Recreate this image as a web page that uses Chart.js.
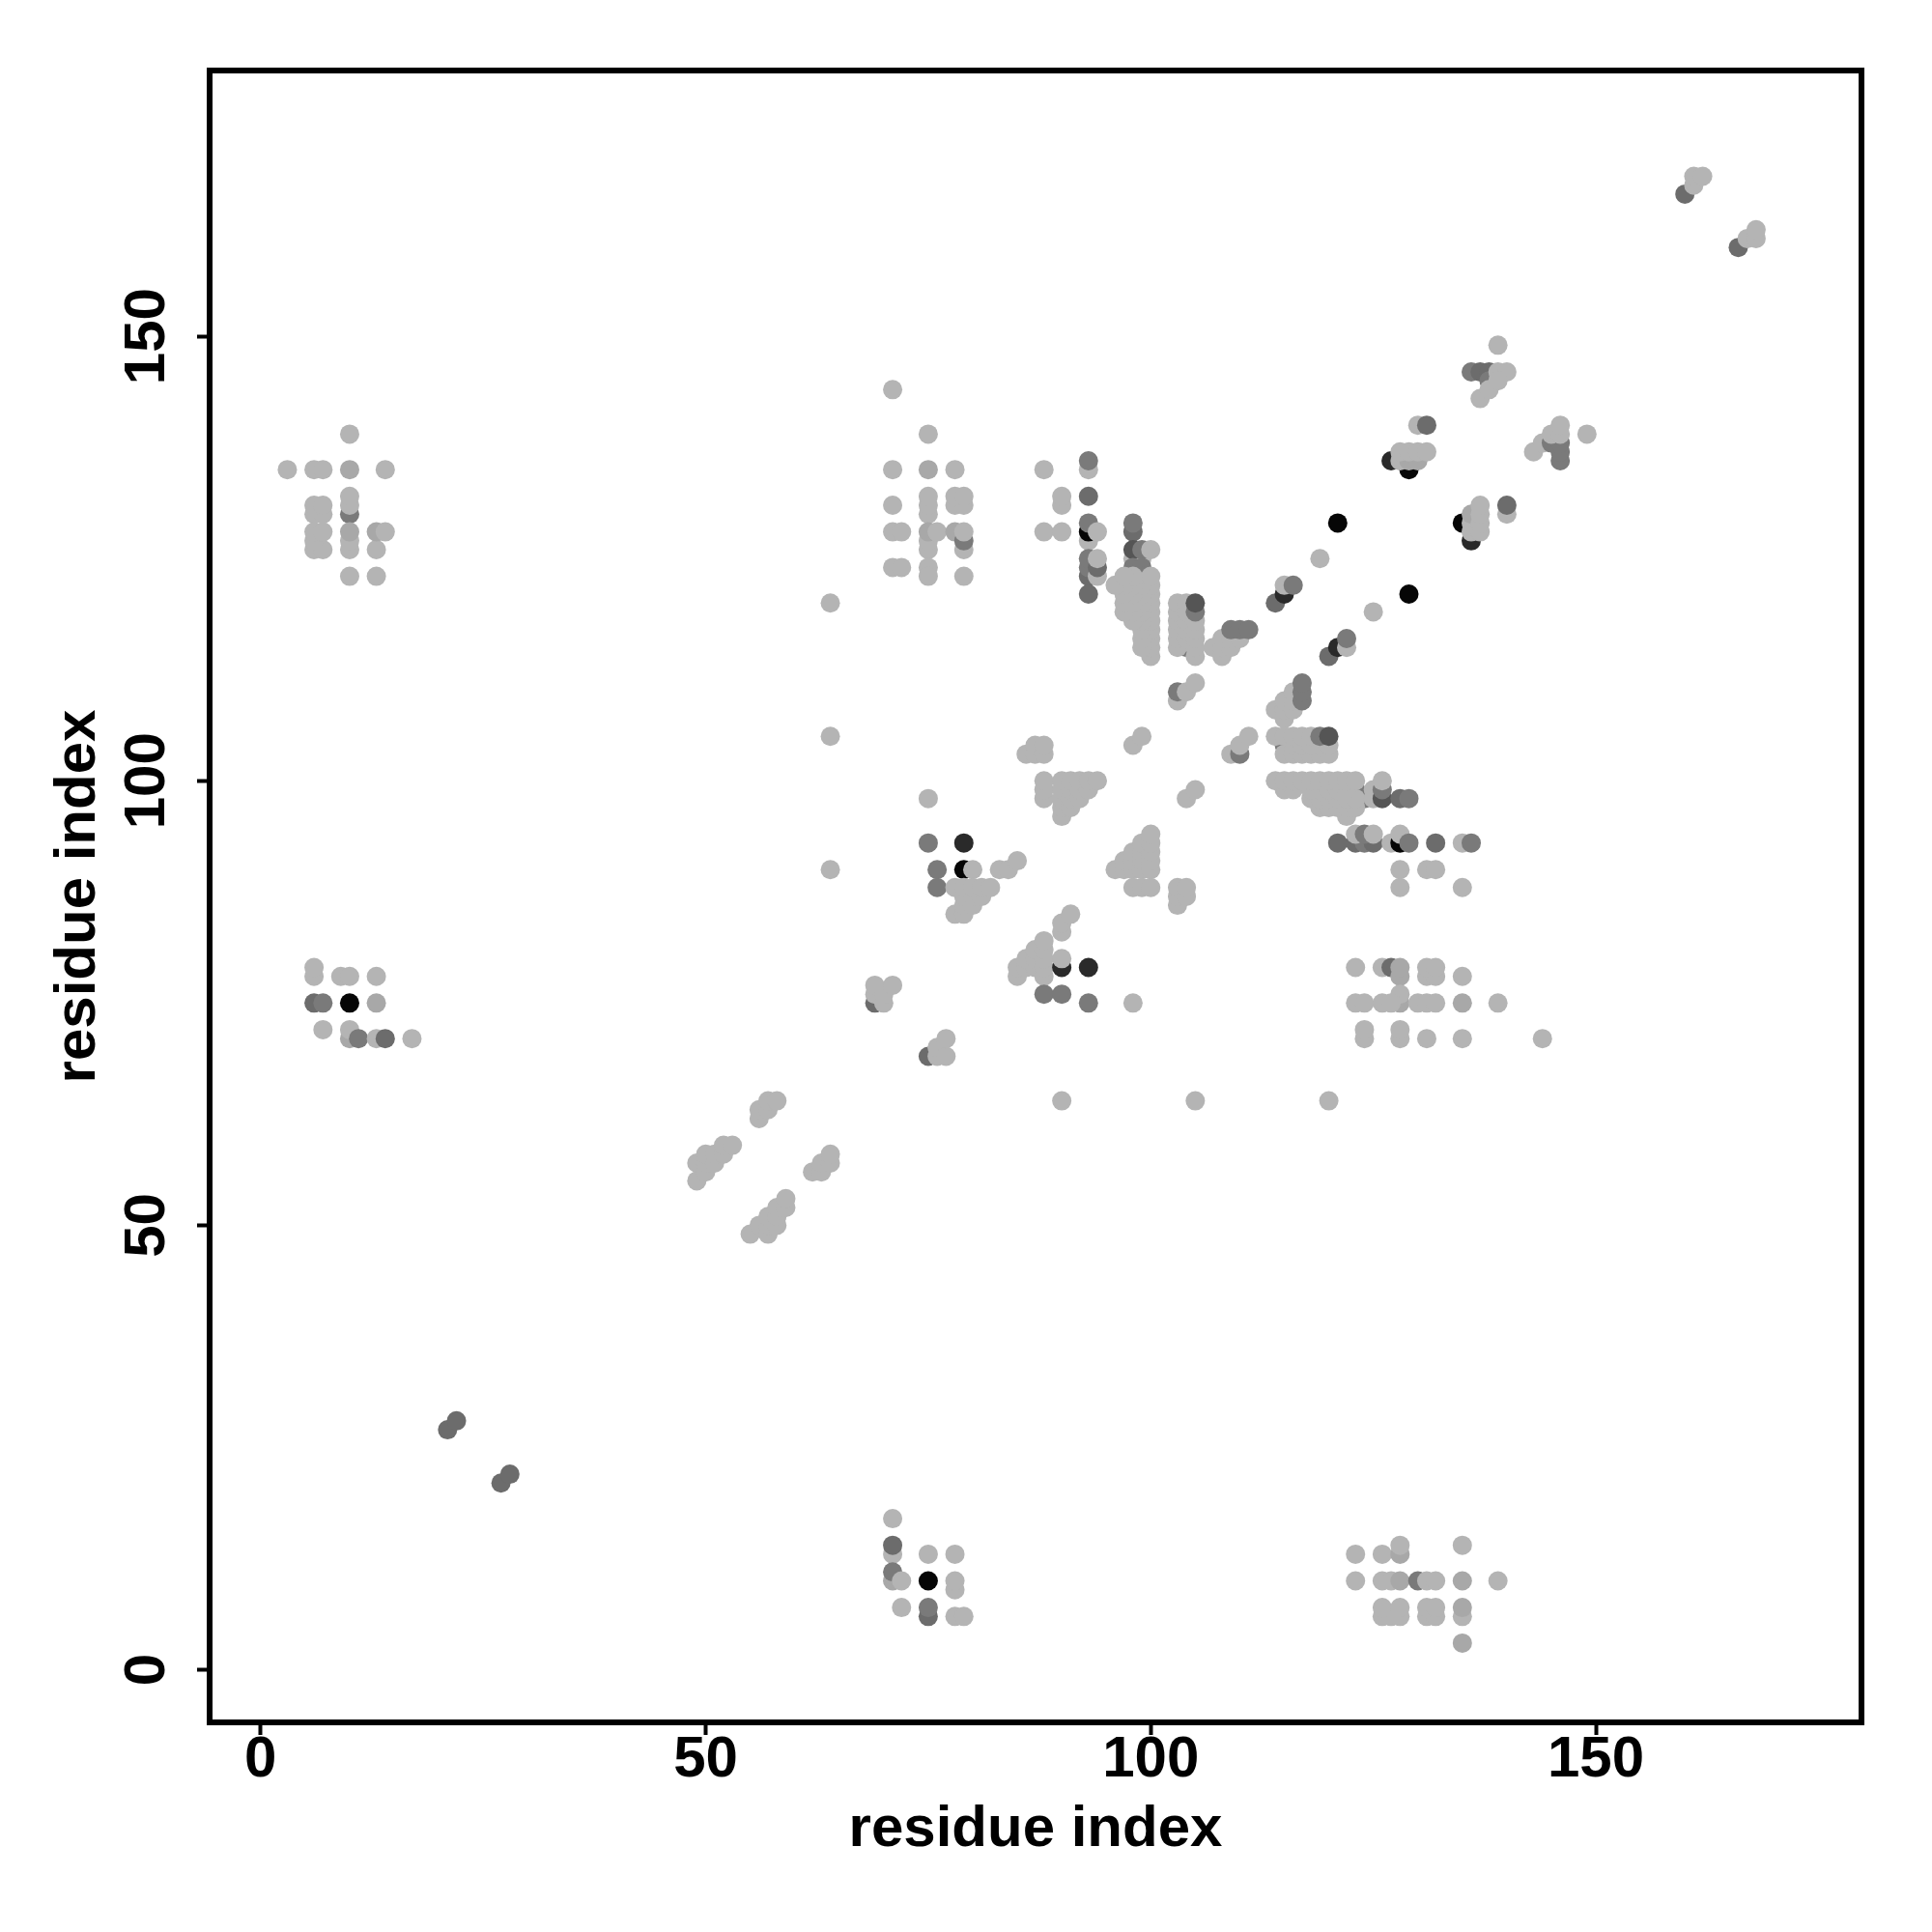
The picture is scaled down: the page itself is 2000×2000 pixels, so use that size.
<!DOCTYPE html>
<html>
<head>
<meta charset="utf-8">
<style>html,body{margin:0;padding:0;background:#fff}canvas{display:block}</style>
<script src="https://cdn.jsdelivr.net/npm/chart.js@4"></script>
</head>
<body>
<canvas id="c" width="2000" height="2000"></canvas>
<script>
// contacts: [residue x, residue y, score level] (level omitted = 1)
const lowDiagonal = [[21,27,4],[22,28,4],[27,21,4],[28,22,4]];
const topDiagonal = [[160,166,4],[161,167],[161,168],[162,168],[166,160,4],[167,161],[168,161],[168,162]];
const cornerTopLeft = [[10,139],[3,135],[6,135],[7,135],[10,135,2],[14,135],[6,130],[7,130],[10,130,3],[6,131],[7,131],[10,131],[10,132],
  [6,126],[7,126],[10,126],[13,126],[6,127],[10,127],[6,128],[7,128],[10,128,2],[13,128,2],[14,128],[10,123],[13,123]];
const cornerMidLeft = [[6,78],[6,79],[9,78],[10,78],[13,78],[6,75,4],[7,75,3],[10,75,7],[13,75,2],[7,72],[10,71,2],[10,72],[11,71,3],[13,71],[14,71,4],[17,71]];
const cornerBottomMid = [[71,17],[71,13],[71,14,4],[75,13],[78,13],[71,10,2],[71,11,3],[72,10],[75,10,7],[78,9],[78,10],[72,7],[75,6,4],[75,7,3],[78,6],[79,6]];
const cornerBottomRight = [[123,13],[126,13],[128,13,2],[128,14],[135,14],[123,10],[126,10],[127,10],[128,10,2],[130,10,3],[131,10],[132,10],[135,10,2],[139,10],
  [126,6],[127,6],[128,6],[131,6],[132,6],[135,6],[126,7],[128,7],[131,7],[132,7],[135,7,2],[135,3,2]];
const blockTopMid = [[71,144],[75,139],[71,135],[75,135,2],[78,135],[75,130],[75,131],[75,132],[71,131],[78,131],[79,131],[78,132],[79,132],
  [71,128],[72,128],[75,126],[75,127],[75,128,2],[76,128],[78,128,2],[79,126],[79,127,3],[79,128],[71,124],[72,124],[75,124],[75,123],[79,123]];
const blockRightMid = [[123,79],[126,79],[127,79,4],[128,78,2],[128,79,2],[131,78],[132,78],[131,79],[132,79],[135,78],[128,75,2],[128,76],
  [123,75],[124,75],[126,75],[127,75],[130,75],[131,75],[132,75],[135,75,2],[139,75],[124,71],[124,72],[128,71],[128,72],[131,71],[135,71],[144,71]];
const column93 = [[88,135],[90,131],[90,132],[88,128],[90,128],[93,135],[93,136,3],[93,132,4],[93,127],[93,128,7],[93,129,3],[94,128],
  [93,123,4],[93,124,3],[93,125,3],[94,123],[94,124,4],[94,125],[93,121,4]];
const column98 = [[98,128,4],[98,129,3],[98,125],[99,125],[98,126,5],[99,126,3],[100,126],[98,124,3],[99,124,3],[99,123,3]];
const blob98 = [[100,114],[100,115],[99,115],[100,116],[99,116],[100,117],[99,117],[100,118],[99,118],[98,118],[100,119],[99,119],[98,119],[97,119],
  [100,120],[99,120],[98,120],[97,120],[100,121],[99,121],[98,121],[97,121],[100,122],[99,122],[98,122],[97,122],[96,122],[100,123],[98,123],[97,123]];
const blob104 = [[104,115,3],[103,115],[103,116],[103,117],[103,118],[103,119],[103,120],[104,116],[104,117],[104,118],[104,119],[104,120],
  [105,114],[105,115],[105,116],[105,117],[105,118],[105,119,3],[105,120,5]];
const strand108 = [[107,115],[108,114],[108,115],[109,115],[108,116],[109,116],[110,116],[109,117,3],[110,117,3],[111,117,3],[103,109],[103,110,3],[104,110],[105,111]];
const diagonalUpper = [[114,120,4],[115,121,6],[115,122],[116,122,3],[119,125],[121,129,7],[125,119],[129,121,7],[120,114,4],[121,115,6],[122,115],[122,116,3]];
const group128 = [[127,136,6],[129,135,7],[130,140],[131,140,4],[128,136],[129,136,2],[130,136,2],[128,137],[129,137],[130,137],[131,137]];
const group138 = [[139,149],[136,146,3],[137,146,4],[138,146,4],[138,145,3],[137,143],[138,144],[139,146],[140,146],[139,145]];
const group146 = [[149,139],[143,137],[144,138],[146,136,3],[146,137,3],[145,138,3],[146,138,3],[145,139],[146,139],[146,140]];
const group136 = [[135,129,7],[136,127,6],[136,128],[136,129],[136,130,2],[137,128],[137,129],[137,130],[137,131],[140,130],[140,131,4]];
const armLower = [[109,103],[110,103,3],[110,104],[111,105],[114,108],[115,107],[115,108],[115,109],[116,108],[116,109],[116,110],[117,109,3],[117,110,3],[117,111,3]];
const rows103 = [[115,104,3],[115,103],[116,103],[117,103],[118,103],[119,103],[120,103],[116,104],[117,104],[118,104],[119,104],[120,104],
  [114,105],[115,105],[116,105],[117,105],[118,105],[119,105,3],[120,105,5]];
const rows98 = [[123,99,3],[124,98,3],[122,96],[119,97],[120,97],[121,97],[122,97],[123,97],[118,98],[119,98],[120,98],[121,98],[122,98],[123,98],
  [115,99],[116,99],[118,99],[119,99],[120,99],[121,99],[122,99],[114,100],[115,100],[116,100],[117,100],[118,100],[119,100],[120,100],[121,100],[122,100],[123,100],
  [125,99],[125,98],[126,98,5],[126,99,3],[126,100],[128,98,4],[129,98,3]];
const row93 = [[121,93,4],[123,93,4],[124,93,3],[125,93,4],[123,94],[124,94,3],[125,94],[127,93],[128,93,7],[128,94],[129,93,3],[132,93,4],[135,93],[136,93,3],[128,90],[131,90],[132,90],[128,88],[135,88]];
const triangleUpper = [[86,103],[87,103],[87,104],[88,103],[88,104],[88,98],[88,99],[88,100],[90,96],[90,97],[90,98],[90,99],[90,100],[91,97],[91,98],[91,99],[91,100],
  [92,98],[92,99],[92,100],[93,99],[93,100],[94,100],[98,104],[99,105],[104,98],[105,99]];
const triangleLower = [[96,90],[97,90],[97,91],[98,90],[98,91],[98,92],[99,90],[99,91],[99,92],[99,93],[100,90],[100,91],[100,92],[100,93],[100,94],
  [98,88],[99,88],[100,88],[103,86],[103,87],[103,88],[104,87],[104,88]];
const triangleMid = [[90,83],[90,84],[91,85],[85,78],[85,79],[86,79],[86,80],[87,79],[87,80],[87,81],[88,78],[88,79],[88,80],[88,81],[88,82],
  [90,79,6],[90,80],[93,79,6],[88,76,3],[90,76,3],[93,75,3],[98,75],[90,64],[105,64],[120,64]];
const triangleLeft = [[64,120],[64,105],[64,90],[75,98],[75,93,3],[79,93,6],[76,90,3],[79,90,7],[80,90],[76,88,3],[83,90],[84,90],[85,91],
  [78,85],[79,85],[79,86],[80,86],[79,87],[80,87],[81,87],[78,88],[79,88],[80,88],[81,88],[82,88]];
const strands70 = [[69,75,4],[69,76],[69,77],[70,75],[70,76],[71,77],[75,69,4],[76,69],[76,70],[77,69],[77,71]];
const strands50 = [[56,62],[56,63],[57,63],[57,64],[58,64],[49,55],[49,57],[50,56],[50,57],[50,58],[51,57],[51,58],[52,58],[52,59],[53,59],
  [62,56],[63,56],[63,57],[64,57],[64,58],[55,49],[56,50],[57,49],[57,50],[57,51],[58,50],[58,51],[58,52],[59,52],[59,53]];

const tickValues = [0, 50, 100, 150];
const axisTitle = "residue index";

const contacts = [].concat(lowDiagonal, topDiagonal, cornerTopLeft, cornerMidLeft, cornerBottomMid, cornerBottomRight,
  blockTopMid, blockRightMid, column93, column98, blob98, blob104, strand108, diagonalUpper, group128, group138, group146, group136,
  armLower, rows103, rows98, row93, triangleUpper, triangleLower, triangleMid, triangleLeft, strands70, strands50)
  .map(c => ({x: c[0], y: c[1], level: c[2] || 1}));

const greys = {1:'#b4b4b4', 2:'#a8a8a8', 3:'#7a7a7a', 4:'#6c6c6c', 5:'#555555', 6:'#2a2a2a', 7:'#060606'};
const font = {family: '"Liberation Sans", Arial, sans-serif', size: 60, weight: 'bold'};

const frame = {
  id: 'frame',
  afterDraw(chart) {
    const {ctx, chartArea: a} = chart;
    ctx.save();
    ctx.strokeStyle = '#000';
    ctx.lineWidth = 6;
    ctx.strokeRect(a.left, a.top, a.right - a.left, a.bottom - a.top);
    ctx.restore();
  }
};

new Chart(document.getElementById('c'), {
  type: 'scatter',
  data: {datasets: [{
    data: contacts,
    pointRadius: 10,
    pointHoverRadius: 10,
    pointBorderWidth: 0,
    pointBackgroundColor: ctx => greys[ctx.raw ? ctx.raw.level : 1]
  }]},
  plugins: [frame],
  options: {
    responsive: false,
    animation: false,
    layout: {padding: {top: 73, right: 73, left: 0, bottom: 0}},
    plugins: {legend: {display: false}, tooltip: {enabled: false}},
    scales: {
      x: {
        type: 'linear', min: -5.73, max: 179.84,
        afterBuildTicks: s => { s.ticks = tickValues.map(v => ({value: v})); },
        afterFit: s => { s.height = 217; },
        border: {display: false},
        grid: {drawOnChartArea: false, drawTicks: true, tickLength: 13, tickWidth: 4, tickColor: '#000'},
        ticks: {color: '#000', font, padding: -10, autoSkip: false, maxRotation: 0},
        title: {display: true, text: axisTitle, color: '#000', font, padding: {top: 0, bottom: 70}}
      },
      y: {
        type: 'linear', min: -5.92, max: 179.9,
        afterBuildTicks: s => { s.ticks = tickValues.map(v => ({value: v})); },
        afterFit: s => { s.width = 217; },
        border: {display: false},
        grid: {drawOnChartArea: false, drawTicks: true, tickLength: 13, tickWidth: 4, tickColor: '#000'},
        ticks: {color: '#000', font, padding: 0, autoSkip: false, minRotation: 90, maxRotation: 90, crossAlign: 'center'},
        title: {display: true, text: axisTitle, color: '#000', font, padding: {top: 45, bottom: 0}}
      }
    }
  }
});
</script>
</body>
</html>
